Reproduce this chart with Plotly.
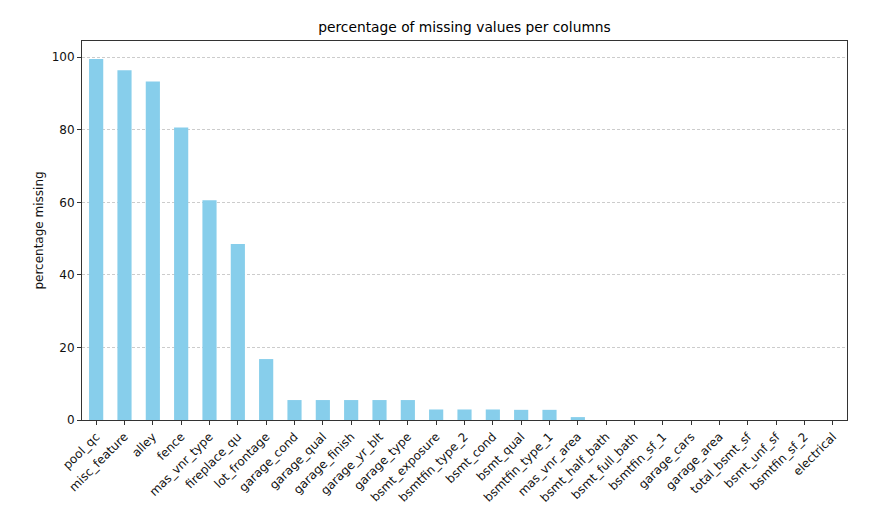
import plotly.graph_objects as go

columns = ["pool_qc", "misc_feature", "alley", "fence", "mas_vnr_type", "fireplace_qu",
           "lot_frontage", "garage_cond", "garage_qual", "garage_finish", "garage_yr_blt",
           "garage_type", "bsmt_exposure", "bsmtfin_type_2", "bsmt_cond", "bsmt_qual",
           "bsmtfin_type_1", "mas_vnr_area", "bsmt_half_bath", "bsmt_full_bath",
           "bsmtfin_sf_1", "garage_cars", "garage_area", "total_bsmt_sf", "bsmt_unf_sf",
           "bsmtfin_sf_2", "electrical"]
pct_missing = [99.5, 96.4, 93.3, 80.6, 60.6, 48.5, 16.8, 5.5, 5.5, 5.5, 5.5, 5.5,
               2.9, 2.9, 2.9, 2.8, 2.8, 0.8, 0, 0, 0, 0, 0, 0, 0, 0, 0]
y_ticks = [0, 20, 40, 60, 80, 100]

fig = go.Figure(go.Bar(
    x=list(range(len(columns))), y=pct_missing, width=0.5,
    marker=dict(color="#87CEEB", line=dict(width=0)),
))

font = "DejaVu Sans, sans-serif"
fig.update_layout(
    width=894, height=505,
    margin=dict(l=82, r=47, t=41, b=85),
    plot_bgcolor="white", paper_bgcolor="white",
    font=dict(family=font, size=12, color="#111"),
    title=dict(text="percentage of missing values per columns", x=0.5, xref="paper",
               xanchor="center", y=1, yref="container", yanchor="top", pad=dict(t=22),
               font=dict(size=13.8, color="#000")),
    showlegend=False,
    bargap=0.5,
)
fig.update_xaxes(
    range=[-0.5, len(columns) - 0.5], automargin=False,
    tickmode="array", tickvals=list(range(len(columns))), ticktext=columns,
    tickangle=-45, ticks="outside", ticklen=4, tickcolor="#333",
    showline=True, linecolor="#333", linewidth=1, mirror=True,
    showgrid=False, zeroline=False,
)
fig.update_yaxes(
    range=[0, max(pct_missing) * 1.05], automargin=False,
    tickmode="array", tickvals=y_ticks,
    ticks="outside", ticklen=4, tickcolor="#333",
    showline=True, linecolor="#333", linewidth=1, mirror=True,
    showgrid=True, gridcolor="#cccccc", griddash="3px,2px", gridwidth=0.8,
    zeroline=False,
    title=dict(text="percentage missing", font=dict(size=12), standoff=5),
)
fig.write_html("out.html")
